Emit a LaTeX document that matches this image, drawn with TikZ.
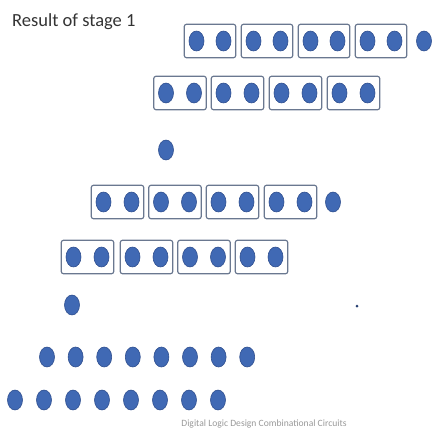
\documentclass[tikz,border=0pt]{standalone}
\usepackage{fontspec}
\setmainfont{Carlito}
\usetikzlibrary{shapes.geometric,fit}
\definecolor{dotblue}{HTML}{4069B4}
\definecolor{dotedge}{HTML}{2F4F8F}
\definecolor{boxedge}{HTML}{6A7890}
\tikzset{
  dot/.style={ellipse,fill=dotblue,draw=dotedge,line width=0.6pt,minimum width=15pt,minimum height=20pt,inner sep=0pt},
  pairbox/.style={draw=boxedge,line width=1.2pt,rounded corners=2.5pt,inner xsep=4.5pt,inner ysep=6.5pt},
  speck/.style={circle,fill=dotedge!80!black,minimum size=3pt,inner sep=0pt},
}
\begin{document}
\begin{tikzpicture}[x=1pt,y=-1pt]
\useasboundingbox (0,0) rectangle (432,432);
\node[anchor=west,font=\fontsize{18.5}{20}\selectfont,text=black!80,inner sep=0pt] (title) at (12,22) {Result of stage 1};
% row 1
\foreach \c [count=\i] in {210,267,324,381}{
  \node[dot] (ra\i a) at (\c-13.5,41) {};
  \node[dot] (ra\i b) at (\c+13.5,41) {};
  \node[pairbox,fit=(ra\i a)(ra\i b)] (ba\i) {};
}
\node[dot] (raX) at (424,41) {};
% row 2
\foreach \c [count=\i] in {180,237.5,295.5,353.5}{
  \node[dot] (rb\i a) at (\c-14,93) {};
  \node[dot] (rb\i b) at (\c+14,93) {};
  \node[pairbox,fit=(rb\i a)(rb\i b)] (bb\i) {};
}
% row 3
\node[dot] (rc) at (166,150) {};
% row 4
\foreach \c [count=\i] in {117.5,175,232.5,290.5}{
  \node[dot] (rd\i a) at (\c-14,202) {};
  \node[dot] (rd\i b) at (\c+14,202) {};
  \node[pairbox,fit=(rd\i a)(rd\i b)] (bd\i) {};
}
\node[dot] (rdX) at (333,202) {};
% row 5
\foreach \c [count=\i] in {87.5,146.5,204,261.5}{
  \node[dot] (re\i a) at (\c-14,257) {};
  \node[dot] (re\i b) at (\c+14,257) {};
  \node[pairbox,fit=(re\i a)(re\i b)] (be\i) {};
}
% row 6
\node[dot] (rf) at (72,305) {};
\node[speck] (sp) at (357,306) {};
% row 7
\foreach \i in {0,...,7}{
  \node[dot] (rg\i) at (47+28.6*\i,357) {};
}
% row 8
\foreach \i in {0,...,7}{
  \node[dot] (rh\i) at (15+29*\i,400) {};
}
\node[font=\fontsize{9.6}{11}\selectfont,text=black!40] (foot) at (264,424) {Digital Logic Design Combinational Circuits};
\end{tikzpicture}
\end{document}
